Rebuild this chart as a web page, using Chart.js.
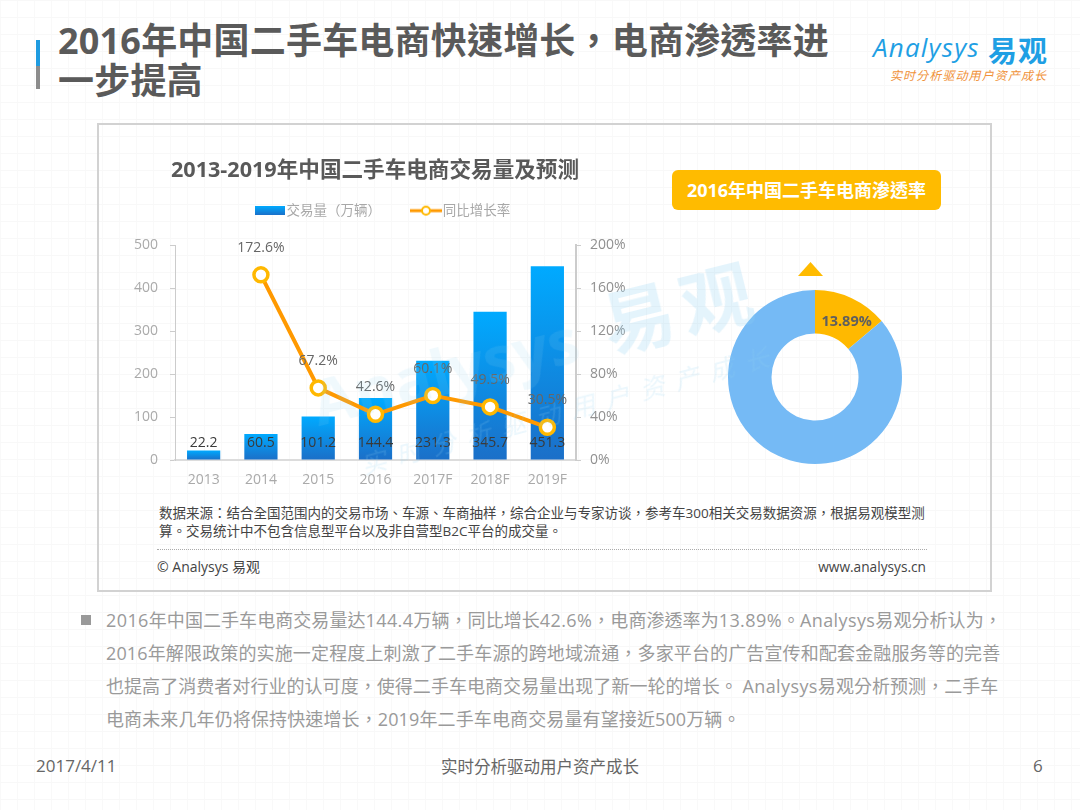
<!DOCTYPE html>
<html lang="zh-TW"><head><meta charset="utf-8">
<script src="https://cdn.jsdelivr.net/npm/chart.js@4/dist/chart.umd.min.js"></script>
<style>
html,body{margin:0;padding:0;background:#fff}
#slide{position:relative;width:1080px;height:810px;overflow:hidden;font-family:"Open Sans","Noto Sans CJK TC",sans-serif;
background-color:#fff;
background-image:linear-gradient(#f8f8f8 1px,transparent 1px),linear-gradient(90deg,#f9f9f9 1px,transparent 1px);
background-size:17px 17px}
.t{position:absolute;white-space:pre}
canvas{position:absolute}
#frame{position:absolute;left:97px;top:123px;width:891px;height:465px;border:2px solid #d2d2d2}
#main{left:58px;top:21px;font-size:36px;line-height:40px;font-weight:700;color:#5a5a5a;letter-spacing:.2px}
#body{left:106px;top:604px;font-size:18px;line-height:33px;color:#9a9a9a}
#body span{letter-spacing:.4px}
#src{left:159px;top:504px;font-size:13.5px;line-height:18px;color:#444}
#pill{position:absolute;left:672px;top:170px;width:269px;height:40px;border-radius:6px;background:#ffbb00;color:#fff;font-weight:700;font-size:18px;line-height:40px;text-align:center}
#tri{position:absolute;left:798px;top:262px;width:25px;height:14px;background:#ffbb00;clip-path:polygon(50% 0,100% 100%,0 100%)}
.wm{position:absolute;color:#8fd0f0;white-space:pre}
#wm1{left:445px;top:370px;transform:translate(-50%,-50%) rotate(-14deg);font-size:62px;font-weight:700;opacity:.13}
#wm3{left:680px;top:303px;transform:translate(-50%,-50%) rotate(-14deg);font-size:72px;font-weight:700;opacity:.24;letter-spacing:8px}
#wm2{left:570px;top:408px;transform:translate(-50%,-50%) rotate(-15deg);font-size:25px;opacity:.18;letter-spacing:11px;font-style:italic}
</style></head><body>
<div id="slide">
 <div style="position:absolute;left:36px;top:40px;width:4px;height:26px;background:#1e9be0"></div>
 <div style="position:absolute;left:36px;top:66px;width:4px;height:23px;background:#8c8c8c"></div>
 <div class="t" id="main">2016年中国二手车电商快速增长，电商渗透率进
一步提高</div>
 <div class="t" style="left:873px;top:29px;font-size:26px;font-style:italic;color:#1f9fe4;letter-spacing:1.2px">Analysys</div>
 <div class="t" style="left:988px;top:28px;font-size:29px;font-weight:700;color:#1f9fe4;letter-spacing:1px">易观</div>
 <div class="t" style="left:890px;top:66px;font-size:12px;font-style:italic;color:#f0923a;letter-spacing:1.1px">实时分析驱动用户资产成长</div>
 <div id="frame"></div>
 <canvas id="combo" width="550" height="345" style="left:100px;top:150px;width:550px;height:345px"></canvas>
 <div id="pill">2016年中国二手车电商渗透率</div>
 <div id="tri"></div>
 <canvas id="donut" width="190" height="190" style="left:720px;top:282px;width:190px;height:190px"></canvas>
 <div class="t" id="src">数据来源：结合全国范围内的交易市场、车源、车商抽样，综合企业与专家访谈，参考车300相关交易数据资源，根据易观模型测
算。交易统计中不包含信息型平台以及非自营型B2C平台的成交量。</div>
 <div style="position:absolute;left:157px;top:549px;width:770px;border-top:1px dotted #aaa"></div>
 <div class="t" style="left:157px;top:556px;font-size:14px;color:#444">© Analysys 易观</div>
 <div class="t" style="right:154px;top:557px;font-size:13.7px;color:#444">www.analysys.cn</div>
 <div class="wm" id="wm1">Analysys</div>
 <div class="wm" id="wm3">易观</div>
 <div class="wm" id="wm2">实时分析驱动用户资产成长</div>
 <div style="position:absolute;left:81px;top:615px;width:10px;height:10px;background:#999"></div>
 <div class="t" id="body"><div style="letter-spacing:.06px"><span>2016</span>年中国二手车电商交易量达<span>144.4</span>万辆，同比增长<span>42.6%</span>，电商渗透率为<span>13.89%</span>。<span>Analysys</span>易观分析认为，</div><div style="letter-spacing:.14px">2016年解限政策的实施一定程度上刺激了二手车源的跨地域流通，多家平台的广告宣传和配套金融服务等的完善</div><div style="letter-spacing:.05px">也提高了消费者对行业的认可度，使得二手车电商交易量出现了新一轮的增长。 <span>Analysys</span>易观分析预测，二手车</div><div style="letter-spacing:.12px">电商未来几年仍将保持快速增长，2019年二手车电商交易量有望接近500万辆。</div></div>
 <div class="t" style="left:36px;top:754px;font-size:17px;color:#666">2017/4/11</div>
 <div class="t" style="left:441px;top:754px;font-size:16.5px;color:#666">实时分析驱动用户资产成长</div>
 <div class="t" style="left:1033px;top:754px;font-size:17px;color:#666">6</div>
</div>
<script>
const categories = ["2013","2014","2015","2016","2017F","2018F","2019F"];
const volume = [22.2,60.5,101.2,144.4,231.3,345.7,451.3];
const growth = [null,172.6,67.2,42.6,60.1,49.5,30.5];
const volumeName = "交易量（万辆）";
const growthName = "同比增长率";
const chartTitle = "2013-2019年中国二手车电商交易量及预测";
const shareLabels = ["渗透率","其他"];
const shareValues = [13.89,86.11];

const FONT = '"Open Sans","Noto Sans CJK TC",sans-serif';
Chart.defaults.font.family = FONT;
Chart.defaults.animation = false;

function barSwatch(){
  const c=document.createElement('canvas');c.width=30;c.height=9;
  const x=c.getContext('2d'),g=x.createLinearGradient(0,0,0,9);
  g.addColorStop(0,'#00aaff');g.addColorStop(1,'#1b6fc8');x.fillStyle=g;x.fillRect(0,0,30,9);return c;
}
function lineSwatch(){
  const c=document.createElement('canvas');c.width=32;c.height=12;
  const x=c.getContext('2d');x.fillStyle='#ff9900';x.fillRect(0,4.5,32,3);
  x.beginPath();x.arc(16,6,4,0,Math.PI*2);x.fillStyle='#fff';x.fill();x.lineWidth=2;x.strokeStyle='#ffb800';x.stroke();return c;
}
const swatches=[barSwatch(),lineSwatch()];

function barFill(ctx){
  const ch=ctx.chart;
  if(!ch.chartArea||ctx.raw==null) return '#0f8fe6';
  const s=ch.scales.y,g=ch.ctx.createLinearGradient(0,s.getPixelForValue(ctx.raw),0,s.getPixelForValue(0));
  g.addColorStop(0,'#00aaff');g.addColorStop(1,'#1b6fc8');return g;
}

const labelPlugin={id:'valueLabels',afterDatasetsDraw(ch){
  const c=ch.ctx;c.save();c.textAlign='center';c.textBaseline='middle';c.font='14px '+FONT;
  const base=ch.scales.y.getPixelForValue(40);
  ch.getDatasetMeta(0).data.forEach((el,i)=>{c.fillStyle='#3a3a3a';c.fillText(volume[i].toFixed(1),el.x,base);});
  ch.getDatasetMeta(1).data.forEach((el,i)=>{if(growth[i]==null)return;c.fillStyle='#666';c.fillText(growth[i].toFixed(1)+'%',el.x,el.y-27);});
  c.restore();
}};
const legendTune={id:'legendTune',beforeUpdate(ch){
  const l=ch.legend;if(!l||l._tuned)return;l._tuned=true;
  const fit=l.fit.bind(l),draw=l.draw.bind(l);
  l.fit=function(){fit();this.height+=3.5;};
  l.draw=function(){ch.ctx.save();ch.ctx.translate(10,-14.5);draw();ch.ctx.restore();};
}};

new Chart(document.getElementById('combo'),{
  data:{labels:categories,datasets:[
    {type:'bar',label:volumeName,data:volume,yAxisID:'y',order:1,backgroundColor:barFill,borderWidth:0,categoryPercentage:1,barPercentage:.58},
    {type:'line',label:growthName,data:growth,yAxisID:'y1',order:0,borderColor:'#ff9900',borderWidth:4,tension:0,
     pointRadius:7,pointBorderWidth:3.5,pointBorderColor:'#ffb800',pointBackgroundColor:'#fff'}
  ]},
  options:{responsive:false,maintainAspectRatio:false,layout:{padding:0},
    plugins:{tooltip:{enabled:false},
      title:{display:true,text:chartTitle,color:'#595959',font:{size:21.6,weight:'700'},padding:{top:7.5,bottom:0}},
      legend:{display:true,position:'top',onClick:null,labels:{color:'#a8a8a8',font:{size:13.5},usePointStyle:true,pointStyleWidth:20,padding:35,
        generateLabels:()=>[{text:volumeName,pointStyle:swatches[0],datasetIndex:0,fontColor:'#a8a8a8',lineWidth:0},
                            {text:growthName,pointStyle:swatches[1],datasetIndex:1,fontColor:'#a8a8a8',lineWidth:0}]}}},
    scales:{
      x:{grid:{display:false,drawTicks:false},border:{color:'#dcdcdc',width:2},ticks:{color:'#aaa',font:{size:14},padding:12,maxRotation:0},afterFit(s){s.height=35;}},
      y:{position:'left',min:0,max:500,grid:{drawOnChartArea:false,tickLength:5,color:'#ccc'},border:{color:'#ccc',width:1},
         ticks:{stepSize:100,color:'#aaa',font:{size:14},padding:12},afterFit(s){s.width=75;}},
      y1:{position:'right',min:0,max:200,grid:{drawOnChartArea:false,tickLength:5,color:'#ccc'},border:{color:'#ccc',width:2},
         ticks:{stepSize:40,color:'#909090',font:{size:14},padding:9,callback:v=>v+'%'},afterFit(s){s.width=74;}}
    }},
  plugins:[labelPlugin,legendTune]
});

const donutLabel={id:'donutLabel',afterDatasetsDraw(ch){
  const c=ch.ctx,p=ch.getDatasetMeta(0).data[0].tooltipPosition();
  c.save();c.font='700 14.5px '+FONT;c.fillStyle='#5f5f5f';c.textAlign='center';c.textBaseline='middle';
  c.fillText(shareValues[0].toFixed(2)+'%',p.x+4,p.y+4);c.restore();
}};
new Chart(document.getElementById('donut'),{type:'doughnut',
  data:{labels:shareLabels,datasets:[{data:shareValues,backgroundColor:['#ffb900','#75baf5'],borderWidth:0}]},
  options:{responsive:false,maintainAspectRatio:false,radius:87,cutout:'50%',layout:{padding:0},plugins:{legend:{display:false},tooltip:{enabled:false}}},
  plugins:[donutLabel]
});
</script>
</body></html>
